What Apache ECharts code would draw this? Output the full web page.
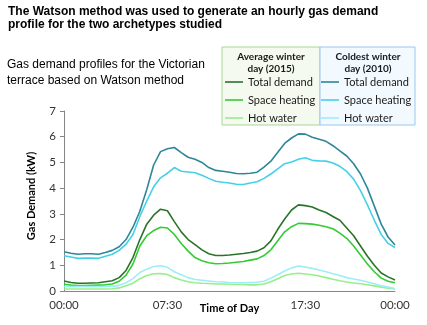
<!DOCTYPE html>
<html>
<head>
<meta charset="utf-8">
<script src="https://cdn.jsdelivr.net/npm/echarts@6/dist/echarts.min.js"></script>
<style>
html,body{margin:0;padding:0;background:#fff;}
#chart{width:427px;height:325px;}
</style>
</head>
<body>
<div id="chart"></div>
<script>
// Half-hourly time categories 00:00 .. 24:00 (shown as 00:00)
const times = [];
for (let i = 0; i <= 48; i++) {
  const h = Math.floor(i / 2) % 24, m = (i % 2) ? '30' : '00';
  times.push((h < 10 ? '0' : '') + h + ':' + m);
}
const tickLabels = ['00:00', '07:30', '17:30', '00:00'];

// Average winter day (2015)
const avgTotal = [0.39,0.33,0.30,0.30,0.31,0.32,0.36,0.40,0.52,0.80,1.30,2.00,2.60,2.95,3.18,3.12,2.70,2.30,2.00,1.80,1.60,1.45,1.38,1.38,1.40,1.43,1.46,1.50,1.55,1.68,1.95,2.40,2.80,3.15,3.35,3.32,3.27,3.15,3.05,2.90,2.75,2.45,2.15,1.75,1.35,1.00,0.70,0.55,0.43];
const avgSpace = [0.26,0.23,0.21,0.21,0.22,0.23,0.24,0.27,0.38,0.62,1.05,1.75,2.15,2.35,2.48,2.45,2.20,1.85,1.55,1.30,1.18,1.10,1.06,1.07,1.09,1.12,1.15,1.20,1.25,1.38,1.60,1.95,2.30,2.50,2.63,2.62,2.60,2.56,2.50,2.42,2.25,2.05,1.75,1.40,1.05,0.75,0.50,0.38,0.32];
const avgHot = [0.08,0.08,0.08,0.08,0.08,0.08,0.08,0.09,0.12,0.20,0.30,0.48,0.60,0.67,0.68,0.64,0.52,0.43,0.36,0.32,0.30,0.29,0.27,0.27,0.26,0.25,0.25,0.24,0.24,0.27,0.36,0.48,0.60,0.66,0.69,0.66,0.63,0.58,0.52,0.46,0.40,0.35,0.31,0.28,0.24,0.20,0.15,0.11,0.08];

// Coldest winter day (2010)
const coldTotal = [1.53,1.47,1.43,1.45,1.45,1.43,1.50,1.58,1.72,2.00,2.48,3.10,3.95,4.90,5.42,5.53,5.58,5.38,5.20,5.12,5.00,4.80,4.69,4.66,4.62,4.57,4.56,4.58,4.62,4.82,5.05,5.40,5.74,5.95,6.11,6.10,5.98,5.90,5.82,5.65,5.45,5.25,4.95,4.55,4.00,3.30,2.60,2.10,1.79];
const coldSpace = [1.37,1.32,1.27,1.28,1.28,1.27,1.35,1.43,1.58,1.82,2.20,2.90,3.50,4.05,4.40,4.58,4.80,4.66,4.63,4.60,4.50,4.38,4.27,4.23,4.20,4.15,4.14,4.20,4.25,4.38,4.55,4.75,4.95,5.02,5.12,5.18,5.08,5.06,5.05,4.98,4.85,4.65,4.35,3.90,3.35,2.75,2.20,1.85,1.69];
const coldHot = [0.17,0.17,0.17,0.17,0.17,0.17,0.17,0.18,0.22,0.32,0.48,0.72,0.85,0.95,0.98,0.92,0.75,0.63,0.52,0.45,0.42,0.39,0.36,0.35,0.33,0.32,0.32,0.33,0.34,0.38,0.50,0.63,0.78,0.90,0.97,0.93,0.88,0.82,0.75,0.67,0.60,0.52,0.47,0.42,0.35,0.28,0.20,0.15,0.10];

const AVG = 'Average winter day (2015) – ';
const COLD = 'Coldest winter day (2010) – ';
const seriesDefs = [
  {name: AVG + 'Total demand', data: avgTotal, color: '#2a742a'},
  {name: AVG + 'Space heating', data: avgSpace, color: '#33cc33'},
  {name: AVG + 'Hot water', data: avgHot, color: '#99ee8c'},
  {name: COLD + 'Total demand', data: coldTotal, color: '#2e8798'},
  {name: COLD + 'Space heating', data: coldSpace, color: '#45d0e6'},
  {name: COLD + 'Hot water', data: coldHot, color: '#9eeef8'}
];

const tickIdx = [0, 15, 35, 48];

const chart = echarts.init(document.getElementById('chart'), null, {renderer: 'canvas'});
const legendText = {fontFamily: 'Lato', fontSize: 11, color: '#1a1a1a', lineHeight: 14};
const legendBase = {
  orient: 'vertical', icon: 'rect', itemWidth: 18, itemHeight: 1.6, itemGap: 4,
  textStyle: legendText, padding: 0, selectedMode: false,
  formatter: function (n) { return n.split(' – ')[1]; }
};
chart.setOption({
  animation: false,
  title: [
    {text: 'The Watson method was used to generate an hourly gas demand\nprofile for the two archetypes studied',
     left: 8, top: 5, padding: 0,
     textStyle: {fontFamily: 'Liberation Sans', fontWeight: 'bold', fontSize: 12, lineHeight: 13, color: '#000'}},
    {text: 'Gas demand profiles for the Victorian\nterrace based on Watson method',
     left: 7, top: 57, padding: 0,
     textStyle: {fontFamily: 'Liberation Sans', fontWeight: 'normal', fontSize: 12, lineHeight: 16, color: '#000'}}
  ],
  graphic: [
    {type: 'rect', shape: {x: 222, y: 47, width: 98, height: 78},
     style: {fill: '#f4faef', stroke: '#a8d88f', lineWidth: 1}, z: -1},
    {type: 'rect', shape: {x: 320, y: 47, width: 95, height: 78},
     style: {fill: '#f2f9ff', stroke: '#9cc6ec', lineWidth: 1}, z: -1},
    {type: 'text', x: 271, y: 57, style: {text: 'Average winter', fontFamily: 'Lato', fontWeight: 'bold', fontSize: 10, fill: '#1a1a1a', align: 'center', verticalAlign: 'middle'}},
    {type: 'text', x: 271, y: 69, style: {text: 'day (2015)', fontFamily: 'Lato', fontWeight: 'bold', fontSize: 10, fill: '#1a1a1a', align: 'center', verticalAlign: 'middle'}},
    {type: 'text', x: 368, y: 57, style: {text: 'Coldest winter', fontFamily: 'Lato', fontWeight: 'bold', fontSize: 10, fill: '#1a1a1a', align: 'center', verticalAlign: 'middle'}},
    {type: 'text', x: 368, y: 69, style: {text: 'day (2010)', fontFamily: 'Lato', fontWeight: 'bold', fontSize: 10, fill: '#1a1a1a', align: 'center', verticalAlign: 'middle'}}
  ],
  legend: [
    Object.assign({}, legendBase, {left: 225, top: 75, data: seriesDefs.slice(0, 3).map(s => s.name)}),
    Object.assign({}, legendBase, {left: 321, top: 75, data: seriesDefs.slice(3).map(s => s.name)})
  ],
  grid: {left: 64, right: 32, top: 111, bottom: 34, containLabel: false, outerBoundsMode: 'none'},
  xAxis: {
    type: 'category', data: times, boundaryGap: false,
    name: 'Time of Day', nameLocation: 'middle', nameGap: 12, nameMoveOverlap: false,
    nameTextStyle: {fontFamily: 'Lato', fontWeight: 'bold', fontSize: 11, color: '#000', verticalAlign: 'top'},
    axisLine: {lineStyle: {color: '#868686', width: 1}},
    axisTick: {show: false},
    axisLabel: {
      interval: function (i) { return tickIdx.indexOf(i) >= 0; },
      formatter: function (v, i) { const k = tickIdx.indexOf(i); return k >= 0 ? tickLabels[k] : ''; },
      fontFamily: 'Lato', fontSize: 11.5, color: '#333', margin: 8
    },
    splitLine: {show: false}
  },
  yAxis: {
    type: 'value', min: 0, max: 7, interval: 1,
    name: 'Gas Demand (kW)', nameLocation: 'middle', nameGap: 27, nameRotate: 90, nameMoveOverlap: false,
    nameTextStyle: {fontFamily: 'Lato', fontWeight: 'bold', fontSize: 11, color: '#000', padding: [0, 0, 0, 10]},
    axisLine: {show: true, lineStyle: {color: '#868686', width: 1}},
    axisTick: {show: true, length: 4, lineStyle: {color: '#868686'}},
    axisLabel: {fontFamily: 'Lato', fontSize: 11.5, color: '#333', margin: 8},
    splitLine: {show: false}
  },
  series: seriesDefs.map(s => ({
    name: s.name, type: 'line', data: s.data, symbol: 'none',
    lineStyle: {color: s.color, width: 1.6}, itemStyle: {color: s.color}
  }))
});
</script>
</body>
</html>
